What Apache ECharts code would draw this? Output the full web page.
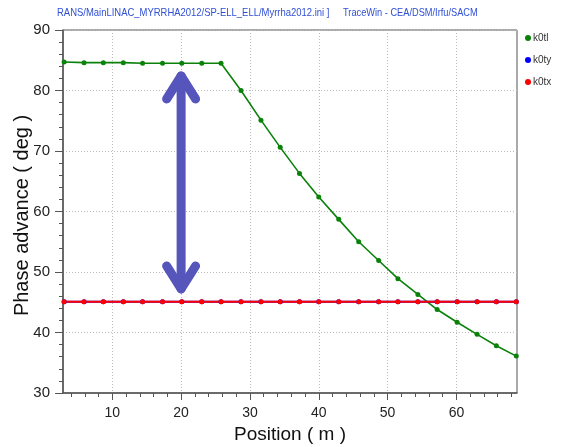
<!DOCTYPE html>
<html><head><meta charset="utf-8">
<script src="https://cdn.jsdelivr.net/npm/echarts@6/dist/echarts.min.js"></script>
<style>html,body{margin:0;padding:0;background:#fff}#c{width:562px;height:447px}</style>
</head><body><div id="c"></div>
<script>
const positions = [3.0, 5.9, 8.7, 11.6, 14.4, 17.3, 20.1, 23.0, 25.8, 28.7, 31.6, 34.4, 37.2, 40.0, 42.9, 45.8, 48.7, 51.5, 54.4, 57.2, 60.1, 63.0, 65.8, 68.7];
const k0tl = [84.7, 84.6, 84.6, 84.6, 84.5, 84.5, 84.5, 84.5, 84.5, 80.0, 75.1, 70.6, 66.3, 62.4, 58.7, 55.0, 51.9, 48.9, 46.3, 43.8, 41.7, 39.7, 37.8, 36.1];
const k0ty = [45.1, 45.1, 45.1, 45.1, 45.1, 45.1, 45.1, 45.1, 45.1, 45.1, 45.1, 45.1, 45.1, 45.1, 45.1, 45.1, 45.1, 45.1, 45.1, 45.1, 45.1, 45.1, 45.1, 45.1];
const k0tx = [45.1, 45.1, 45.1, 45.1, 45.1, 45.1, 45.1, 45.1, 45.1, 45.1, 45.1, 45.1, 45.1, 45.1, 45.1, 45.1, 45.1, 45.1, 45.1, 45.1, 45.1, 45.1, 45.1, 45.1];
const seriesNames = ['k0tl', 'k0ty', 'k0tx'];
const xMajorTicks = [10, 20, 30, 40, 50, 60];
const xMinorTicks = [4, 6, 8, 12, 14, 16, 18, 22, 24, 26, 28, 32, 34, 36, 38, 42, 44, 46, 48, 52, 54, 56, 58, 62, 64, 66, 68];
const arrowAt = [20, 82.4, 47.2]; // x, top y, bottom y (data units)
const headerLeft = 'RANS/MainLINAC_MYRRHA2012/SP-ELL_ELL/Myrrha2012.ini ]';
const headerRight = 'TraceWin - CEA/DSM/Irfu/SACM';
const xTitle = 'Position ( m )';
const yTitle = 'Phase advance ( deg )';

const pair = (ys) => positions.map((x, i) => [x, ys[i]]);
const chart = echarts.init(document.getElementById('c'), null, {renderer: 'canvas'});
const font = 'Liberation Sans';
const lineSeries = (name, ys, color, w) => ({
  name, type: 'line', data: pair(ys), symbol: 'circle', symbolSize: 5,
  clip: false, itemStyle: {color}, lineStyle: {color, width: w}, animation: false
});
const X_MIN = 2.84, X_MAX = 68.8;
chart.setOption({
  animation: false,
  backgroundColor: '#fff',
  textStyle: {fontFamily: font},
  graphic: [
    {type: 'text', x: 57, y: 7, scaleX: 0.86, style: {text: headerLeft, fill: '#2f4fd7', font: '11px "Liberation Sans"'}},
    {type: 'text', x: 343, y: 7, scaleX: 0.84, style: {text: headerRight, fill: '#2f4fd7', font: '11px "Liberation Sans"'}}
  ],
  legend: {
    orient: 'vertical', left: 520, top: 28, itemGap: 12, itemWidth: 6, itemHeight: 6,
    icon: 'circle', data: seriesNames,
    textStyle: {fontSize: 10, color: '#333', fontFamily: font, padding: [0, 0, 0, -3]}
  },
  grid: {left: 63, top: 30, right: 45, bottom: 54, show: true, borderColor: '#555', borderWidth: 1,
    containLabel: false, outerBoundsMode: 'none'},
  xAxis: [{
    type: 'value', min: X_MIN, max: X_MAX,
    name: xTitle, nameLocation: 'middle', nameGap: 32,
    nameTextStyle: {fontSize: 19, color: '#111', fontFamily: font},
    axisLine: {lineStyle: {color: '#555', width: 1.5}},
    axisTick: {show: true, length: 7, lineStyle: {color: '#555'}, customValues: xMajorTicks},
    minorTick: {show: false},
    axisLabel: {fontSize: 14, color: '#222', margin: 13, customValues: xMajorTicks},
    splitLine: {show: true, lineStyle: {color: '#bbb', type: [1, 2]}}
  }, {
    type: 'value', min: X_MIN, max: X_MAX, position: 'bottom',
    axisLine: {show: false},
    axisTick: {show: true, length: 4, lineStyle: {color: '#555'}, customValues: xMinorTicks},
    axisLabel: {show: false},
    splitLine: {show: false}
  }],
  yAxis: {
    type: 'value', min: 30, max: 90, interval: 10,
    name: yTitle, nameLocation: 'middle', nameGap: 31, nameMoveOverlap: false,
    nameTextStyle: {fontSize: 20, color: '#111', fontFamily: font, padding: [0, 8, 0, 0]},
    axisLine: {show: true, lineStyle: {color: '#555', width: 1.5}},
    axisTick: {show: true, length: 8, lineStyle: {color: '#555'}},
    minorTick: {show: true, splitNumber: 5, length: 4, lineStyle: {color: '#555'}},
    axisLabel: {fontSize: 15, color: '#222', margin: 13},
    splitLine: {show: true, lineStyle: {color: '#bbb', type: [1, 2]}}
  },
  series: [
    lineSeries('k0tl', k0tl, '#0a820a', 1.6),
    lineSeries('k0ty', k0ty, '#0000ff', 2),
    lineSeries('k0tx', k0tx, '#ff0000', 2),
    {
      type: 'custom', name: 'arrow', silent: true, clip: false, z: 5,
      data: [arrowAt],
      renderItem: (params, api) => {
        const top = api.coord([api.value(0), api.value(1)]);
        const bot = api.coord([api.value(0), api.value(2)]);
        const st = {stroke: '#5555bb', lineWidth: 9, lineCap: 'round', lineJoin: 'round', fill: null};
        const hx = 14.5, hy = 23;
        return {type: 'group', children: [
          {type: 'line', shape: {x1: top[0], y1: top[1], x2: bot[0], y2: bot[1]}, style: st},
          {type: 'polyline', shape: {points: [[top[0] - hx, top[1] + hy], top, [top[0] + hx, top[1] + hy]]}, style: st},
          {type: 'polyline', shape: {points: [[bot[0] - hx, bot[1] - hy], bot, [bot[0] + hx, bot[1] - hy]]}, style: st}
        ]};
      }
    }
  ]
});
</script></body></html>
